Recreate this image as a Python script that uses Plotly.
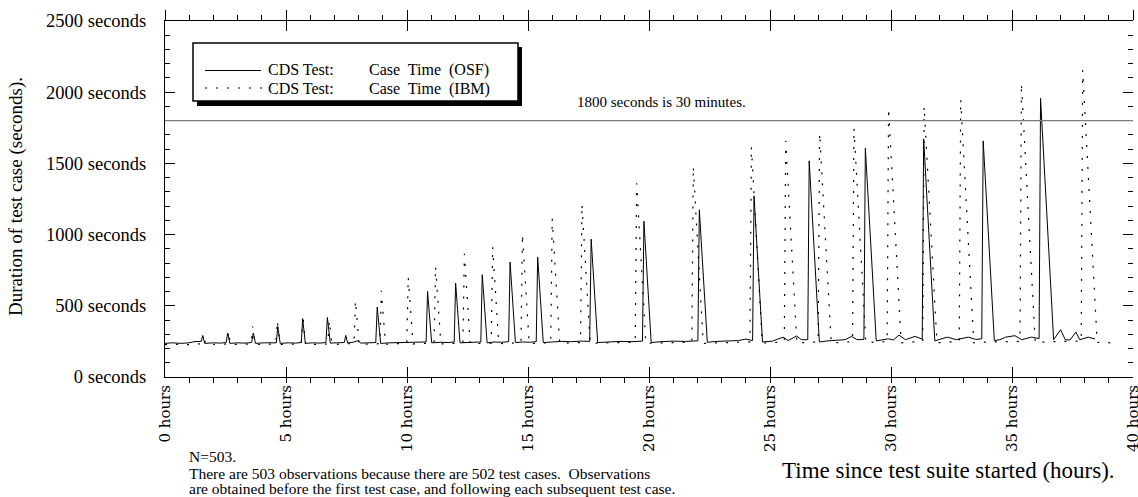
import plotly.graph_objects as go

# ---------------- data ----------------
osf_hours = [0.00, 0.30, 0.65, 1.00, 1.20, 1.45, 1.50, 1.56, 1.64, 2.00, 2.30, 2.53, 2.59, 2.68,
             3.00, 3.30, 3.58, 3.65, 3.74, 4.10, 4.40, 4.60, 4.66, 4.76, 5.10, 5.40, 5.63, 5.69,
             5.80, 6.10, 6.40, 6.65, 6.71, 6.83, 7.10, 7.41, 7.47, 7.55, 7.80, 7.95, 8.10, 8.40,
             8.71, 8.77, 8.91, 9.30, 9.70, 10.10, 10.50, 10.79, 10.85, 11.02, 11.40, 11.70, 11.95,
             12.01, 12.19, 12.50, 12.80, 13.05, 13.11, 13.31, 13.60, 13.90, 14.20, 14.26, 14.48,
             14.80, 15.10, 15.34, 15.40, 15.63, 16.00, 16.40, 16.80, 17.20, 17.55, 17.61, 17.88,
             18.30, 18.80, 19.30, 19.73, 19.79, 20.09, 20.50, 21.00, 21.50, 22.02, 22.08, 22.41,
             22.80, 23.30, 23.70, 24.00, 24.28, 24.34, 24.69, 25.10, 25.54, 25.75, 26.10, 26.30,
             26.56, 26.62, 27.04, 27.40, 27.80, 28.10, 28.37, 28.60, 28.88, 28.94, 29.39, 29.89,
             30.10, 30.33, 30.60, 30.99, 31.29, 31.35, 31.81, 32.00, 32.33, 32.70, 33.20, 33.50,
             33.75, 33.81, 34.27, 34.50, 34.74, 35.12, 35.40, 35.81, 36.12, 36.18, 36.72, 37.01,
             37.20, 37.40, 37.64, 37.80, 38.15, 38.43]
osf_seconds = [236, 240, 236, 240, 248, 252, 250, 292, 236, 240, 238, 242, 309, 236,
               240, 238, 242, 309, 236, 240, 238, 240, 355, 236, 240, 238, 242, 407,
               236, 240, 238, 242, 418, 238, 240, 242, 292, 238, 246, 254, 238, 240,
               242, 491, 236, 240, 242, 246, 244, 246, 601, 240, 244, 242, 246,
               659, 240, 244, 246, 246, 718, 240, 246, 244, 248, 807, 242,
               246, 244, 248, 842, 242, 246, 250, 248, 252, 250, 968, 242,
               246, 250, 248, 252, 1094, 242, 248, 252, 250, 254, 1174, 244,
               250, 254, 256, 266, 256, 1272, 246, 252, 280, 256, 288, 262,
               262, 1518, 246, 254, 260, 262, 285, 262, 264, 1606, 254, 268,
               260, 294, 262, 285, 266, 1672, 254, 262, 280, 262, 280, 264,
               268, 1658, 256, 262, 280, 290, 262, 280, 270, 1957, 262, 332,
               262, 260, 316, 262, 280, 267]

ibm_hours = [0.00, 0.40, 0.80, 1.20, 1.56, 1.62, 1.70, 2.10, 2.56, 2.62, 2.71, 3.10, 3.56, 3.62,
             3.72, 4.10, 4.58, 4.64, 4.75, 5.20, 5.63, 5.69, 5.81, 6.30, 6.73, 6.79, 6.90, 7.40,
             7.81, 7.87, 8.02, 8.50, 8.88, 8.94, 9.11, 9.60, 9.99, 10.05, 10.25, 10.70, 11.12,
             11.18, 11.40, 11.90, 12.31, 12.37, 12.61, 13.10, 13.48, 13.54, 13.79, 14.30, 14.71,
             14.77, 15.05, 15.50, 15.94, 16.00, 16.31, 16.80, 17.17, 17.23, 17.57, 18.20, 18.90,
             19.43, 19.49, 19.87, 20.50, 21.20, 21.77, 21.83, 22.24, 22.90, 23.60, 24.17, 24.23,
             24.68, 25.20, 25.59, 25.65, 26.11, 26.60, 26.99, 27.05, 27.53, 28.00, 28.41, 28.47,
             28.96, 29.40, 29.84, 29.90, 30.42, 30.90, 31.31, 31.37, 31.90, 32.40, 32.82, 32.88,
             33.42, 34.00, 34.60, 35.33, 35.39, 35.96, 36.60, 37.30, 37.86, 37.92, 38.52, 38.80,
             39.12]
ibm_seconds = [228, 230, 226, 232, 234, 265, 228, 230, 232, 320, 228, 230, 232, 355,
               228, 230, 232, 395, 228, 230, 232, 437, 228, 230, 232, 395, 228, 232,
               236, 535, 230, 232, 234, 605, 230, 234, 236, 701, 232, 236, 238,
               776, 232, 236, 238, 865, 234, 236, 238, 916, 234, 238, 240,
               1003, 234, 238, 240, 1115, 236, 240, 242, 1214, 236, 240, 242,
               244, 1361, 236, 240, 242, 244, 1478, 236, 240, 244, 246, 1618,
               238, 242, 246, 1658, 238, 244, 246, 1712, 238, 244, 248, 1749,
               240, 246, 248, 1887, 240, 246, 248, 1900, 240, 246, 248, 1950,
               240, 246, 248, 250, 2062, 242, 248, 250, 252, 2156, 242, 246,
               238]

x_tick_vals = [0, 5, 10, 15, 20, 25, 30, 35, 40]
x_tick_text = ["0 hours", "5 hours", "10 hours", "15 hours", "20 hours",
               "25 hours", "30 hours", "35 hours", "40 hours"]
y_tick_vals = [0, 500, 1000, 1500, 2000, 2500]
y_tick_text = ["0 seconds", "500 seconds", "1000 seconds", "1500 seconds",
               "2000 seconds", "2500 seconds"]
threshold_seconds = 1800
legend_head = "CDS Test:"
legend_tails = ["Case\u00a0 Time\u00a0 (OSF)", "Case\u00a0 Time\u00a0 (IBM)"]

# ---------------- layout helpers ----------------
W, H = 1138, 497
L, R, T, B = 165, 5, 21, 120
PW, PH = W - L - R, H - T - B


def px(x):
    return (x - L) / PW


def py(y):
    return (H - B - y) / PH


SERIF = "Liberation Serif, Times New Roman, serif"
SERIF2 = "DejaVu Serif, serif"

fig = go.Figure()
fig.add_trace(go.Scatter(x=osf_hours, y=osf_seconds, mode="lines",
                         line=dict(color="black", width=1),
                         name=legend_head + " " + legend_tails[0], showlegend=False))
fig.add_trace(go.Scatter(x=ibm_hours, y=ibm_seconds, mode="lines",
                         line=dict(color="black", width=1.2, dash="2px,9px"),
                         name=legend_head + " " + legend_tails[1], showlegend=False))

shapes = []
# 1800 s reference line
shapes.append(dict(type="line", xref="x", yref="y", x0=0, x1=40,
                   y0=threshold_seconds, y1=threshold_seconds,
                   line=dict(color="#7a7a7a", width=1.3)))
# legend shadow + box
shapes.append(dict(type="rect", xref="paper", yref="paper",
                   x0=px(197), x1=px(522), y0=py(106), y1=py(47),
                   fillcolor="black", line=dict(width=0), layer="above"))
shapes.append(dict(type="rect", xref="paper", yref="paper",
                   x0=px(193), x1=px(518), y0=py(101), y1=py(43),
                   fillcolor="white", line=dict(color="black", width=1.5), layer="above"))
# legend samples
shapes.append(dict(type="line", xref="paper", yref="paper",
                   x0=px(205), x1=px(261), y0=py(70.5), y1=py(70.5),
                   line=dict(color="black", width=1), layer="above"))
shapes.append(dict(type="line", xref="paper", yref="paper",
                   x0=px(205), x1=px(263), y0=py(88), y1=py(88),
                   line=dict(color="black", width=1.2, dash="2px,9px"), layer="above"))

annotations = []
for tail, yy in zip(legend_tails, [70.0, 88.5]):
    annotations.append(dict(xref="paper", yref="paper", x=px(266), y=py(yy),
                            text=legend_head, showarrow=False, xanchor="left",
                            yanchor="middle", font=dict(family=SERIF, size=16, color="black")))
    annotations.append(dict(xref="paper", yref="paper", x=px(367), y=py(yy),
                            text=tail, showarrow=False, xanchor="left",
                            yanchor="middle", font=dict(family=SERIF, size=16, color="black")))
annotations.append(dict(xref="x", yref="y", x=16.94, y=1932,
                        text="1800 seconds is 30 minutes.", showarrow=False,
                        xanchor="left", yanchor="middle",
                        font=dict(family=SERIF, size=15, color="black")))
annotations.append(dict(xref="paper", yref="paper", x=px(16), y=py(197),
                        text="Duration of test case (seconds).", textangle=-90,
                        showarrow=False, xanchor="center", yanchor="middle",
                        font=dict(family=SERIF, size=19, color="black")))
annotations.append(dict(xref="paper", yref="paper", x=px(948), y=py(470),
                        text="Time since test suite started (hours).", showarrow=False,
                        xanchor="center", yanchor="middle",
                        font=dict(family=SERIF, size=23, color="black")))
note_lines = ["N=503.",
              "There are 503 observations because there are 502 test cases.\u00a0 Observations",
              "are obtained before the first test case, and following each subsequent test case."]
for txt, yy in zip(note_lines, [456, 473, 489]):
    annotations.append(dict(xref="paper", yref="paper", x=px(187), y=py(yy),
                            text=txt, showarrow=False, xanchor="left", yanchor="middle",
                            font=dict(family=SERIF, size=15.5, color="black")))

axis_common = dict(showgrid=False, zeroline=False)
fig.update_layout(
    width=W, height=H, margin=dict(l=L, r=R, t=T, b=B, pad=0, autoexpand=False),
    paper_bgcolor="white", plot_bgcolor="white", showlegend=False,
    shapes=shapes, annotations=annotations,
    xaxis=dict(range=[0, 40], tickvals=x_tick_vals, ticktext=x_tick_text, tickangle=-90,
               ticks="inside", ticklen=10, tickcolor="black", tickwidth=1,
               showline=True, linecolor="black", linewidth=1, mirror="ticks",
               minor=dict(dtick=1, ticks="outside", ticklen=5, tickcolor="black", tickwidth=1),
               tickfont=dict(family=SERIF2, size=15, color="black"),
               ticklabelstandoff=1, ticklabeloverflow="allow", automargin=False,
               **axis_common),
    xaxis2=dict(range=[0, 40], overlaying="x", side="top", anchor="y",
                tickvals=x_tick_vals, ticks="outside", ticklen=10, tickcolor="black",
                showticklabels=False, showline=False, automargin=False, **axis_common),
    yaxis=dict(range=[0, 2500], tickvals=y_tick_vals, ticktext=y_tick_text,
               ticks="inside", ticklen=10, tickcolor="black", tickwidth=1,
               showline=True, linecolor="black", linewidth=1, mirror=False,
               minor=dict(dtick=100, ticks="inside", ticklen=5, tickcolor="black", tickwidth=1),
               tickfont=dict(family=SERIF, size=18.5, color="black"),
               ticklabelstandoff=14, ticklabeloverflow="allow", automargin=False,
               **axis_common),
    yaxis2=dict(range=[0, 2500], overlaying="y", side="right", anchor="x",
                tickvals=y_tick_vals, ticks="inside", ticklen=10, tickcolor="black",
                minor=dict(dtick=100, ticks="inside", ticklen=5, tickcolor="black"),
                showticklabels=False, showline=False, automargin=False, **axis_common),
)
# invisible trace so the overlay axes are drawn
fig.add_trace(go.Scatter(x=[0], y=[0], xaxis="x2", yaxis="y2", mode="markers",
                         marker=dict(opacity=0), hoverinfo="skip", showlegend=False))

fig.write_html("out.html", config={"displayModeBar": False},
               post_script="document.body.style.margin='0';document.body.style.padding='0';")
